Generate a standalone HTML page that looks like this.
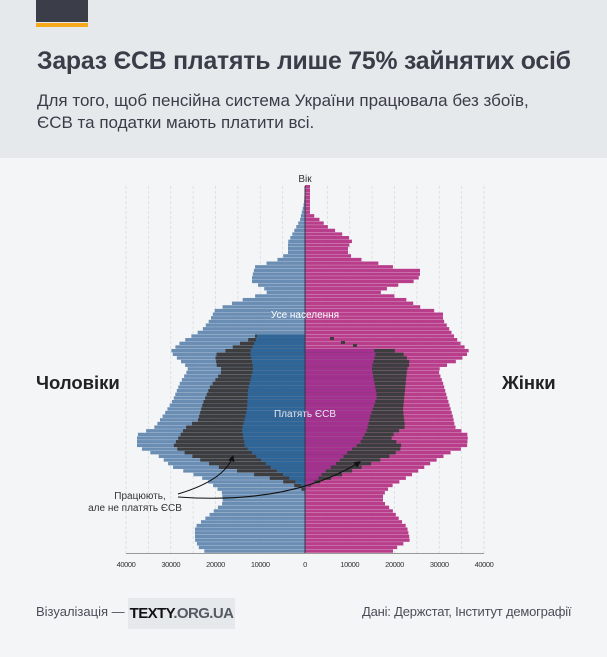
<!DOCTYPE html>
<html><head><meta charset="utf-8"><style>
body{margin:0;width:607px;height:657px;background:#f4f5f7;font-family:"Liberation Sans",sans-serif;overflow:hidden;position:relative}
.hdr{position:absolute;left:0;top:0;width:607px;height:158px;background:#e6e9ec}
.t{position:absolute;left:37px;top:48px;font-size:24.8px;font-weight:bold;color:#3a3d48;white-space:nowrap;letter-spacing:-0.2px}
.s{position:absolute;left:37px;top:90px;font-size:17px;line-height:22px;color:#3a3d48;white-space:nowrap}
</style></head><body>
<div class="hdr"></div>
<div style="position:absolute;left:36px;top:0;width:52px;height:22px;background:#3b3e48"></div>
<div style="position:absolute;left:36px;top:23px;width:52px;height:4px;background:#f8a81b"></div>
<div class="t">Зараз ЄСВ платять лише 75% зайнятих осіб</div>
<div class="s">Для того, щоб пенсійна система України працювала без збоїв,<br>ЄСВ та податки мають платити всі.</div>
<svg id="c" width="607" height="657" style="position:absolute;left:0;top:0" xmlns="http://www.w3.org/2000/svg" font-family="Liberation Sans, sans-serif"></svg>
<div style="position:absolute;left:36px;top:604px;font-size:13px;color:#4a4d58">Візуалізація —</div>
<div style="position:absolute;left:128px;top:598px;width:107px;height:31px;background:#e6e9ec;font-size:15px;font-weight:bold;line-height:31px;text-align:center;color:#111;letter-spacing:-0.6px">TEXTY<span style="color:#555a63">.ORG.UA</span></div>
<div style="position:absolute;left:362px;top:604px;font-size:13px;color:#4a4d58;white-space:nowrap;letter-spacing:-0.2px">Дані: Держстат, Інститут демографії</div>
<script>
function I(p,y){if(y<=p[0][0])return p[0][1];for(let i=1;i<p.length;i++){if(y<=p[i][0]){let a=p[i-1],b=p[i];return a[1]+(b[1]-a[1])*(y-a[0])/(b[0]-a[0]);}}return p[p.length-1][1];}
const MT=[[187,305],[203,304],[220,300],[233,293],[242,288],[253,288],[260,277],[267,255],[277,252],[283,252],[287,263],[293,267],[298,248],[303,233],[310,215],[320,210],[330,202],[337,190],[343,180],[352,170],[367,187],[370,188],[383,180],[400,173],[413,165],[427,155],[435,137],[447,137],[457,160],[467,172],[477,200],[483,210],[493,222],[503,223],[517,207],[527,195],[540,195],[550,200],[553,211]];
const FT=[[187,310],[213,310],[220,320],[227,328],[233,340],[240,353],[247,348],[253,348],[258,353],[262,373],[267,393],[270,420],[277,420],[282,413],[287,390],[293,380],[298,403],[307,420],[313,443],[320,443],[327,448],[335,453],[343,460],[352,470],[360,460],[367,443],[370,438],[383,443],[397,447],[407,450],[417,453],[427,455],[435,468],[447,467],[453,450],[462,433],[470,420],[480,403],[487,390],[495,383],[502,383],[510,392],[520,400],[527,407],[540,410],[550,393],[553,393]];
const ME=[[337,257],[342,255],[352,250],[367,253],[370,253],[390,248],[410,247],[430,242],[447,245],[457,257],[467,270],[477,287],[483,297],[487,303],[490,305]];
const MD=[[337,255],[342,243],[352,223],[355,215],[367,217],[370,223],[387,210],[403,203],[420,198],[428,185],[440,177],[447,173],[453,185],[460,200],[467,217],[473,247],[480,277],[485,293],[490,303],[494,305]];
const FE=[[347,305],[350,373],[352,376],[367,372],[370,372],[397,377],[417,370],[430,367],[443,360],[453,347],[463,337],[473,323],[480,317],[485,310],[490,305]];
const FD=[[347,305],[350,393],[355,405],[363,410],[370,407],[390,405],[410,403],[427,405],[437,390],[447,403],[455,393],[463,373],[473,347],[482,320],[487,307],[490,305]];
let s='';
for(let k=-8;k<=8;k++){let x=305+k*22.375;if(k==0)continue;s+=`<line x1="${x}" y1="186" x2="${x}" y2="553" stroke="#d8dbe0" stroke-width="0.8" stroke-dasharray="3,2"/>`;}
const NR=101,Y0=185,ST=(553-185)/NR;
for(let i=0;i<NR;i++){let y0=Y0+i*ST,y=y0+ST/2,h=ST-0.25;
 let mt=I(MT,y),ft=I(FT,y);
 s+=`<rect x="${mt}" y="${y0}" width="${305-mt}" height="${h}" fill="#6a8db4"/>`;
 s+=`<rect x="305" y="${y0}" width="${ft-305}" height="${h}" fill="#b83d8b"/>`;
 if(y>=336&&y<=494){let md=I(MD,y),me=I(ME,y);
  s+=`<rect x="${md}" y="${y0}" width="${305-md}" height="${h}" fill="#3d3d40"/>`;
  s+=`<rect x="${me}" y="${y0}" width="${305-me}" height="${h}" fill="#2e6699"/>`;}
 if(y>=349&&y<=490){let fd=I(FD,y),fe=I(FE,y);
  s+=`<rect x="305" y="${y0}" width="${fd-305}" height="${h}" fill="#3d3d40"/>`;
  s+=`<rect x="305" y="${y0}" width="${fe-305}" height="${h}" fill="#a43090"/>`;}
}
[[332,337],[343,341],[355,344]].forEach(d=>{s+=`<rect x="${d[0]-2}" y="${d[1]}" width="4" height="3" fill="#3d3d40"/>`;});
s+=`<rect x="303" y="337" width="2" height="12" fill="#2e6699"/>`;
s+=`<line x1="305" y1="186" x2="305" y2="553" stroke="#2d3a4a" stroke-width="1"/>`;
s+=`<line x1="126" y1="553.5" x2="484" y2="553.5" stroke="#999" stroke-width="1"/>`;
[[-4,'40000'],[-3,'30000'],[-2,'20000'],[-1,'10000'],[0,'0'],[1,'10000'],[2,'20000'],[3,'30000'],[4,'40000']].forEach(t=>{s+=`<text x="${305+t[0]*44.75}" y="567" font-size="7.5" text-anchor="middle" fill="#333" style="letter-spacing:-0.4px">${t[1]}</text>`;});
s+=`<text x="305" y="182" font-size="10" text-anchor="middle" fill="#333">Вік</text>`;
s+=`<text x="305" y="318" font-size="10" text-anchor="middle" fill="#fff">Усе населення</text>`;
s+=`<text x="305" y="417" font-size="10" text-anchor="middle" fill="#e8e8f0">Платять ЄСВ</text>`;
s+=`<text x="36" y="389" font-size="18.5" font-weight="bold" fill="#222">Чоловіки</text>`;
s+=`<text x="502" y="389" font-size="18.5" font-weight="bold" fill="#222">Жінки</text>`;
s+=`<text x="140" y="499" font-size="10" text-anchor="middle" fill="#333">Працюють,</text>`;
s+=`<text x="135" y="511" font-size="10" text-anchor="middle" fill="#333">але не платять ЄСВ</text>`;
s+=`<defs><marker id="a" markerWidth="6" markerHeight="6" refX="5" refY="3" orient="auto"><path d="M0,0 L6,3 L0,6 z" fill="#111"/></marker></defs>`;
s+=`<path d="M178,494 Q225,480 233,456" fill="none" stroke="#111" stroke-width="1.1" marker-end="url(#a)"/>`;
s+=`<path d="M178,497 Q290,505 360,462" fill="none" stroke="#111" stroke-width="1.1" marker-end="url(#a)"/>`;
document.getElementById('c').innerHTML=s;
</script>
</body></html>
